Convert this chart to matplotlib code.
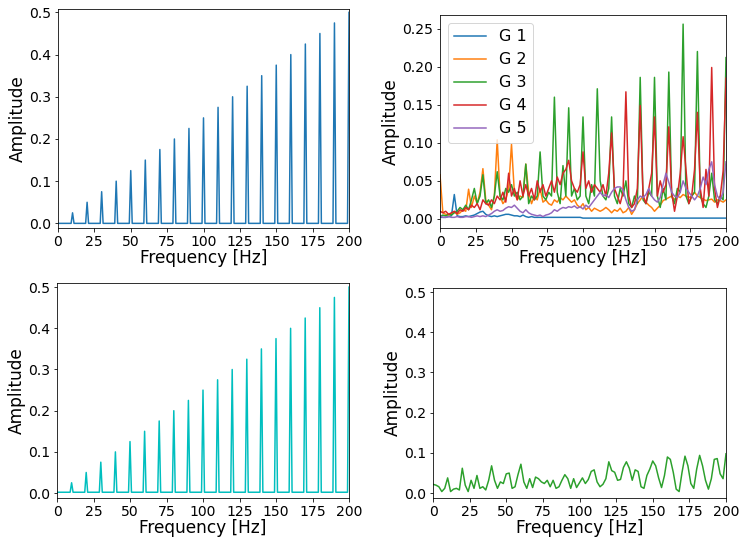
import matplotlib
matplotlib.use('Agg')
import matplotlib.pyplot as plt
import numpy as np

# spectrum of the input signal (1 Hz bins)
peak_freqs = [10, 20, 30, 40, 50, 60, 70, 80, 90, 100,
              110, 120, 130, 140, 150, 160, 170, 180, 190, 200]
peak_amps = [0.025, 0.05, 0.075, 0.1, 0.125, 0.15, 0.175, 0.2, 0.225, 0.25,
             0.275, 0.3, 0.325, 0.35, 0.375, 0.4, 0.425, 0.45, 0.475, 0.5]
cyan_base = 0.002

# outputs of the five filters (2 Hz bins)
g1 = [0.002, 0.002, 0.002, 0.003, 0.004, 0.032, 0.004, 0.003, 0.003, 0.004,
      0.003, 0.004, 0.005, 0.007, 0.009, 0.010, 0.006, 0.004, 0.003, 0.004,
      0.003, 0.004, 0.005, 0.006, 0.006, 0.005, 0.004, 0.004, 0.003, 0.005,
      0.003, 0.002, 0.003, 0.002, 0.002, 0.002, 0.002, 0.002, 0.002, 0.002,
      0.002, 0.002, 0.002, 0.002, 0.002, 0.002, 0.002, 0.002, 0.002, 0.002,
      0.001, 0.001, 0.001, 0.001, 0.001, 0.001, 0.001, 0.001, 0.001, 0.001,
      0.001, 0.001, 0.001, 0.001, 0.001, 0.001, 0.001, 0.001, 0.001, 0.001,
      0.001, 0.001, 0.001, 0.001, 0.001, 0.001, 0.001, 0.001, 0.001, 0.001,
      0.001, 0.001, 0.001, 0.001, 0.001, 0.001, 0.001, 0.001, 0.001, 0.001,
      0.001, 0.001, 0.001, 0.001, 0.001, 0.001, 0.001, 0.001, 0.001, 0.001,
      0.001]
g2 = [0.058, 0.008, 0.006, 0.005, 0.007, 0.009, 0.006, 0.008, 0.012, 0.010,
      0.039, 0.015, 0.030, 0.020, 0.035, 0.066, 0.025, 0.018, 0.012, 0.030,
      0.104, 0.030, 0.020, 0.025, 0.040, 0.098, 0.035, 0.025, 0.030, 0.028,
      0.072, 0.035, 0.020, 0.030, 0.025, 0.040, 0.022, 0.025, 0.020, 0.018,
      0.025, 0.022, 0.028, 0.025, 0.030, 0.026, 0.022, 0.025, 0.018, 0.015,
      0.020, 0.012, 0.015, 0.010, 0.014, 0.012, 0.010, 0.012, 0.015, 0.012,
      0.008, 0.012, 0.010, 0.014, 0.008, 0.010, 0.015, 0.006, 0.012, 0.020,
      0.025, 0.030, 0.022, 0.018, 0.015, 0.010, 0.014, 0.018, 0.024, 0.026,
      0.028, 0.030, 0.025, 0.030, 0.028, 0.032, 0.030, 0.028, 0.030, 0.035,
      0.030, 0.028, 0.026, 0.024, 0.025, 0.026, 0.022, 0.025, 0.024, 0.022,
      0.025]
g3 = [0.003, 0.005, 0.004, 0.006, 0.005, 0.008, 0.010, 0.015, 0.012, 0.018,
      0.012, 0.025, 0.040, 0.020, 0.030, 0.058, 0.020, 0.025, 0.015, 0.030,
      0.062, 0.030, 0.025, 0.040, 0.035, 0.045, 0.030, 0.035, 0.025, 0.030,
      0.072, 0.020, 0.030, 0.025, 0.030, 0.088, 0.030, 0.025, 0.035, 0.030,
      0.160, 0.035, 0.020, 0.070, 0.030, 0.146, 0.030, 0.040, 0.025, 0.030,
      0.134, 0.030, 0.020, 0.045, 0.030, 0.171, 0.050, 0.030, 0.025, 0.040,
      0.134, 0.030, 0.020, 0.040, 0.030, 0.050, 0.020, 0.015, 0.030, 0.020,
      0.186, 0.025, 0.020, 0.035, 0.030, 0.186, 0.030, 0.015, 0.040, 0.025,
      0.193, 0.030, 0.020, 0.040, 0.035, 0.256, 0.030, 0.020, 0.030, 0.035,
      0.220, 0.030, 0.020, 0.015, 0.030, 0.060, 0.025, 0.020, 0.030, 0.025,
      0.212]
g4 = [0.010, 0.008, 0.010, 0.006, 0.008, 0.010, 0.007, 0.012, 0.010, 0.015,
      0.012, 0.018, 0.015, 0.020, 0.012, 0.025, 0.020, 0.018, 0.025, 0.020,
      0.030, 0.025, 0.035, 0.022, 0.060, 0.030, 0.040, 0.025, 0.050, 0.030,
      0.045, 0.030, 0.040, 0.025, 0.050, 0.035, 0.045, 0.030, 0.040, 0.050,
      0.035, 0.055, 0.045, 0.060, 0.065, 0.077, 0.050, 0.040, 0.035, 0.045,
      0.088, 0.040, 0.050, 0.035, 0.045, 0.040, 0.035, 0.045, 0.030, 0.060,
      0.113, 0.040, 0.030, 0.020, 0.035, 0.167, 0.030, 0.015, 0.020, 0.040,
      0.149, 0.030, 0.020, 0.040, 0.060, 0.134, 0.030, 0.050, 0.035, 0.045,
      0.121, 0.035, 0.010, 0.030, 0.060, 0.108, 0.065, 0.020, 0.030, 0.065,
      0.140, 0.040, 0.015, 0.065, 0.030, 0.199, 0.040, 0.015, 0.030, 0.063,
      0.185]
g5 = [0.004, 0.002, 0.002, 0.003, 0.002, 0.002, 0.003, 0.002, 0.002, 0.003,
      0.003, 0.002, 0.003, 0.004, 0.003, 0.004, 0.003, 0.005, 0.007, 0.010,
      0.012, 0.010, 0.011, 0.014, 0.016, 0.015, 0.018, 0.014, 0.010, 0.008,
      0.012, 0.008, 0.006, 0.005, 0.004, 0.005, 0.003, 0.005, 0.006, 0.008,
      0.012, 0.010, 0.013, 0.015, 0.014, 0.016, 0.015, 0.017, 0.014, 0.016,
      0.013, 0.018, 0.015, 0.020, 0.025, 0.030, 0.035, 0.030, 0.032, 0.028,
      0.035, 0.040, 0.042, 0.042, 0.038, 0.025, 0.015, 0.010, 0.012, 0.025,
      0.030, 0.028, 0.032, 0.040, 0.030, 0.025, 0.022, 0.028, 0.045, 0.060,
      0.048, 0.035, 0.030, 0.028, 0.035, 0.050, 0.040, 0.035, 0.030, 0.025,
      0.030, 0.040, 0.055, 0.045, 0.065, 0.075, 0.045, 0.030, 0.025, 0.035,
      0.075]
# selected output (2 Hz bins)
g_out = [0.022, 0.020, 0.016, 0.004, 0.012, 0.038, 0.004, 0.010, 0.012, 0.008,
         0.062, 0.020, 0.004, 0.032, 0.012, 0.044, 0.012, 0.016, 0.008, 0.032,
         0.068, 0.032, 0.012, 0.028, 0.024, 0.048, 0.050, 0.012, 0.016, 0.046,
         0.072, 0.028, 0.012, 0.036, 0.014, 0.040, 0.036, 0.028, 0.024, 0.032,
         0.016, 0.032, 0.012, 0.016, 0.032, 0.046, 0.036, 0.012, 0.036, 0.014,
         0.026, 0.038, 0.024, 0.034, 0.054, 0.058, 0.028, 0.016, 0.022, 0.036,
         0.078, 0.056, 0.052, 0.032, 0.034, 0.064, 0.078, 0.062, 0.032, 0.058,
         0.054, 0.016, 0.012, 0.044, 0.060, 0.080, 0.068, 0.038, 0.014, 0.044,
         0.090, 0.084, 0.052, 0.010, 0.004, 0.052, 0.092, 0.068, 0.024, 0.012,
         0.060, 0.094, 0.068, 0.032, 0.010, 0.036, 0.084, 0.086, 0.048, 0.036,
         0.098]

freq = np.arange(0, 201)
freq2 = np.arange(0, 201, 2)

spec = np.zeros(len(freq))
spec[peak_freqs] = peak_amps
spec_c = spec + cyan_base
spec_c[peak_freqs] = peak_amps

W, H = 741, 539
DPI = 72


def box(left, right, top, bottom):
    return [left / W, 1 - bottom / H, (right - left) / W, (bottom - top) / H]


fig = plt.figure(figsize=(W / DPI, H / DPI), dpi=DPI)
ax1 = fig.add_axes(box(58, 349, 9, 228))
ax2 = fig.add_axes(box(440, 726, 15, 228))
ax3 = fig.add_axes(box(57, 349, 283, 498))
ax4 = fig.add_axes(box(433, 726, 288, 498))

ax1.plot(freq, spec, color='tab:blue')
ax1.set_ylim(-0.011, 0.508)

for vals, lab in zip([g1, g2, g3, g4, g5], ['G 1', 'G 2', 'G 3', 'G 4', 'G 5']):
    ax2.plot(freq2, vals, label=lab)
ax2.set_ylim(-0.012, 0.268)
ax2.legend(loc='upper left', fontsize=16)

ax3.plot(freq, spec_c, color='c')
ax3.set_ylim(-0.012, 0.51)

ax4.plot(freq2, g_out, color='tab:green')
ax4.set_ylim(-0.012, 0.51)

for ax in [ax1, ax2, ax3, ax4]:
    ax.set_xlim(0, 200)
    ax.set_xticks([0, 25, 50, 75, 100, 125, 150, 175, 200])
    ax.set_xlabel('Frequency [Hz]', fontsize=17, labelpad=0)
    ax.set_ylabel('Amplitude', fontsize=17, labelpad=2)
    ax.tick_params(labelsize=14)

fig.savefig('out.png', dpi=DPI)
plt.close()
